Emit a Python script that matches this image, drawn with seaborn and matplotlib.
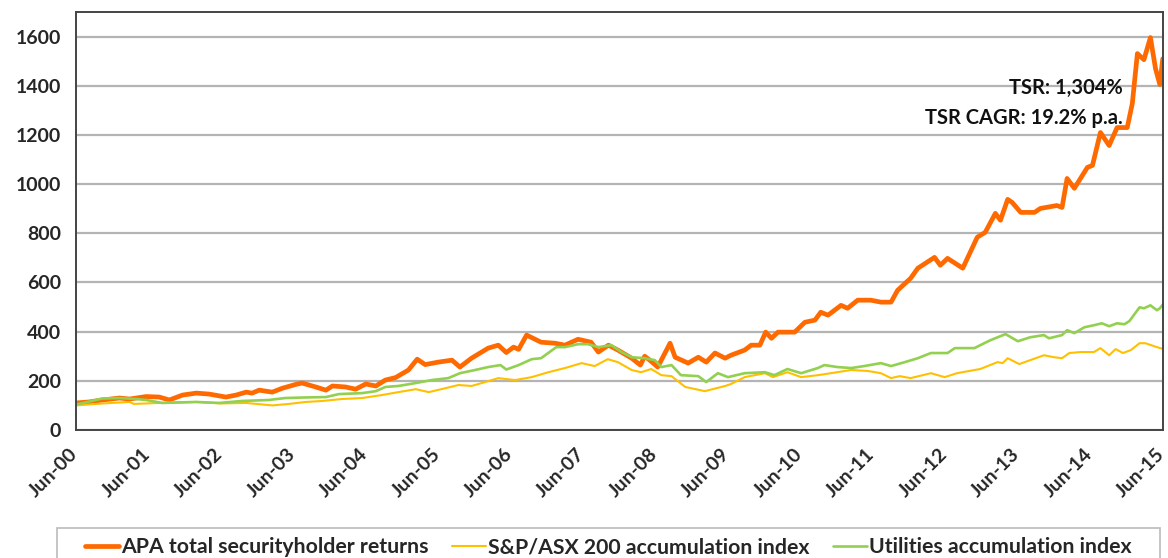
import numpy as np
import pandas as pd
import seaborn as sns
import matplotlib.pyplot as plt
import matplotlib.transforms as mtransforms
from matplotlib.patches import Rectangle

# years since Jun-00
apa_t = [0, 0.18, 0.37, 0.6, 0.74, 0.97, 1.15, 1.29, 1.47, 1.66, 1.84, 2.07, 2.21, 2.35, 2.43,
         2.53, 2.71, 2.85, 3.03, 3.12, 3.31, 3.45, 3.54, 3.72, 3.86, 4.0, 4.14, 4.27, 4.41,
         4.59, 4.71, 4.82, 5.0, 5.19, 5.3, 5.46, 5.69, 5.83, 5.94, 6.04, 6.11, 6.22, 6.42,
         6.61, 6.75, 6.93, 7.11, 7.21, 7.35, 7.48, 7.67, 7.79, 7.85, 7.92, 8.03, 8.2, 8.27,
         8.45, 8.59, 8.7, 8.82, 8.96, 9.04, 9.23, 9.32, 9.44, 9.52, 9.6, 9.69, 9.92, 10.06,
         10.2, 10.28, 10.38, 10.56, 10.65, 10.79, 10.97, 11.11, 11.25, 11.34, 11.52, 11.62,
         11.85, 11.93, 12.03, 12.24, 12.44, 12.55, 12.69, 12.76, 12.86, 12.92, 13.04, 13.23,
         13.31, 13.54, 13.61, 13.68, 13.78, 13.96, 14.03, 14.14, 14.26, 14.37, 14.51, 14.58,
         14.65, 14.74, 14.83, 14.9, 14.96, 15.0]
apa = [110, 114, 122, 130, 126, 136, 134, 122, 142, 150, 146, 134, 142, 154, 150,
       162, 154, 170, 185, 191, 175, 162, 179, 175, 166, 187, 179, 203, 213,
       244, 288, 266, 276, 284, 256, 292, 333, 345, 315, 337, 328, 386, 357,
       353, 345, 369, 357, 317, 345, 325, 292, 264, 300, 284, 256, 353, 296,
       272, 296, 276, 313, 292, 304, 325, 345, 345, 398, 373, 398, 398, 438,
       447, 479, 467, 507, 495, 528, 528, 520, 520, 568, 617, 658,
       702, 670, 698, 658, 784, 804, 881, 853, 938, 926, 885, 885,
       901, 913, 905, 1023, 983, 1068, 1076, 1210, 1157, 1230, 1230, 1328,
       1531, 1506, 1596, 1470, 1405, 1510]

asx_t = [0, 0.37, 0.74, 0.8, 1.15, 1.66, 2.0, 2.35, 2.71, 2.94, 3.17, 3.4, 3.67, 3.95, 4.22,
         4.45, 4.69, 4.87, 5.1, 5.28, 5.46, 5.65, 5.83, 6.06, 6.29, 6.52, 6.75, 6.98, 7.16,
         7.34, 7.48, 7.67, 7.8, 7.94, 8.08, 8.22, 8.41, 8.68, 8.96, 9.04, 9.23, 9.51, 9.62,
         9.82, 10.01, 10.24, 10.42, 10.7, 10.93, 11.11, 11.25, 11.37, 11.52, 11.8, 11.99,
         12.16, 12.48, 12.72, 12.79, 12.86, 13.02, 13.17, 13.36, 13.5, 13.61, 13.71, 13.86,
         14.05, 14.14, 14.26, 14.35, 14.45, 14.56, 14.68, 14.76, 14.92, 15.0]
asx = [100, 108, 114, 106, 110, 114, 108, 110, 100, 106, 114, 118, 126, 130, 142,
       154, 166, 154, 170, 183, 179, 195, 211, 203, 215, 235, 252, 272, 260,
       288, 276, 244, 235, 248, 223, 219, 175, 158, 179, 187, 215, 231, 215,
       235, 215, 223, 231, 244, 240, 231, 211, 219, 211, 231, 215,
       231, 248, 276, 272, 292, 268, 284, 304, 296, 292, 313, 317,
       317, 333, 304, 329, 313, 325, 353, 353, 337, 330]

util_t = [0, 0.36, 0.6, 0.83, 0.97, 1.19, 1.66, 1.98, 2.29, 2.66, 2.89, 3.12, 3.45, 3.63, 3.95,
          4.14, 4.27, 4.45, 4.69, 4.91, 5.14, 5.3, 5.51, 5.69, 5.86, 5.94, 6.11, 6.29, 6.42,
          6.63, 6.75, 6.93, 7.07, 7.21, 7.39, 7.53, 7.67, 7.85, 7.99, 8.08, 8.22, 8.35, 8.59,
          8.7, 8.86, 9.0, 9.23, 9.51, 9.64, 9.82, 10.01, 10.24, 10.33, 10.51, 10.7, 10.88,
          11.11, 11.25, 11.44, 11.62, 11.8, 12.03, 12.13, 12.4, 12.62, 12.83, 13.0, 13.17,
          13.36, 13.43, 13.61, 13.68, 13.78, 13.92, 14.05, 14.16, 14.26, 14.37, 14.47, 14.54,
          14.68, 14.74, 14.83, 14.92, 14.96, 15.0]
util = [103, 128, 130, 126, 122, 110, 114, 110, 118, 122, 130, 132, 134, 146, 150,
        158, 175, 179, 191, 203, 211, 231, 244, 256, 264, 246, 264, 288, 292,
        337, 337, 349, 349, 337, 345, 317, 296, 292, 284, 256, 264, 223, 219,
        195, 231, 215, 231, 235, 223, 248, 231, 252, 264, 256, 252, 260,
        272, 260, 276, 292, 313, 313, 333, 333, 365, 390, 361, 377,
        386, 373, 386, 406, 394, 418, 426, 434, 422, 434, 430, 443,
        499, 495, 507, 487, 495, 510]

tick_labels = ["Jun-%02d" % y for y in range(0, 16)]

sns.set_style("white")
plt.rcParams["font.family"] = ["Lato", "DejaVu Sans"]
plt.rcParams["font.weight"] = "bold"

fig = plt.figure(figsize=(11.68, 5.58), dpi=100)
ax = fig.add_axes([0.065, 0.2294, 0.9305, 0.7491])

ax.set_axisbelow(True)
ax.yaxis.grid(True, color="#b4b4b4", linewidth=1.6)

sns.lineplot(x=apa_t, y=apa, ax=ax, color="#ff6a00", linewidth=3.4, estimator=None,
             label="APA total securityholder returns")
sns.lineplot(x=asx_t, y=asx, ax=ax, color="#ffc000", linewidth=1.5, estimator=None,
             label="S&P/ASX 200 accumulation index")
sns.lineplot(x=util_t, y=util, ax=ax, color="#92d050", linewidth=1.9, estimator=None,
             label="Utilities accumulation index")

ax.set_xlim(0, 15)
ax.set_ylim(0, 1700)
ax.set_yticks(np.arange(0, 1601, 200))
ax.set_xticks(np.arange(0, 16))
ax.set_xticklabels(tick_labels, rotation=45, ha="right", rotation_mode="anchor")
ax.tick_params(axis="both", labelsize=14, length=7, width=1.3, color="#555555", direction="out")
ax.tick_params(axis="x", pad=4)
shift = mtransforms.ScaledTranslation(-7 / 100, 0, fig.dpi_scale_trans)
for lab in ax.get_xticklabels():
    lab.set_transform(lab.get_transform() + shift)
for lab in ax.get_xticklabels() + ax.get_yticklabels():
    lab.set_fontweight("bold")
for s in ax.spines.values():
    s.set_color("#444444")
    s.set_linewidth(1.4)

ax.text(14.45, 1390, "TSR: 1,304%", ha="right", va="center", fontsize=14.5, fontweight="bold",
        color="#111111")
ax.text(14.45, 1270, "TSR CAGR: 19.2% p.a.", ha="right", va="center", fontsize=14.5,
        fontweight="bold", color="#111111")

ax.get_legend().remove()
handles, labels = ax.get_legend_handles_labels()
leg = fig.legend(handles, labels, loc="upper center", bbox_to_anchor=(0.521, 0.0545), ncol=3,
                 frameon=False, borderaxespad=0,
                 handlelength=1.6, handletextpad=0.1, columnspacing=1.1, borderpad=0.45,
                 prop={"weight": "bold", "size": 15.3})
# legend box runs off the bottom edge, as in the original
fig.patches.append(Rectangle((57 / 1168, -0.02), 1103 / 1168, 30 / 558 + 0.02,
                             transform=fig.transFigure, fill=False,
                             edgecolor="#bbbbbb", linewidth=1.2))

fig.savefig("out.png", dpi=100)
